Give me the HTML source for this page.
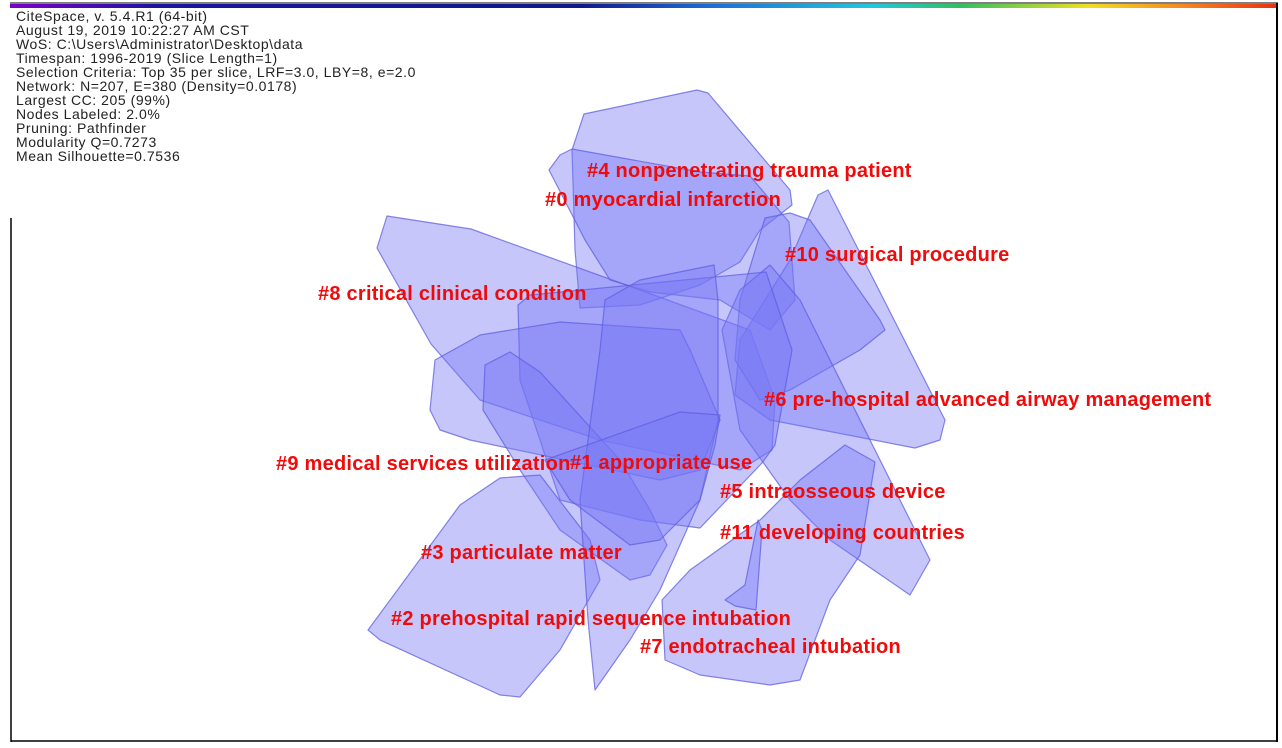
<!DOCTYPE html>
<html><head><meta charset="utf-8"><style>
html,body{margin:0;padding:0;background:#fff;}
svg{display:block;}
.h{font-family:"Liberation Sans",sans-serif;font-size:14px;fill:#222;letter-spacing:0.55px;}
.l{font-family:"Liberation Sans",sans-serif;font-size:20px;font-weight:bold;fill:#f00a0a;letter-spacing:0.25px;}
.p{fill:rgba(120,120,245,0.42);stroke:rgba(95,95,225,0.75);stroke-width:1.2;stroke-linejoin:round;}
</style></head><body>
<svg width="1282" height="748" viewBox="0 0 1282 748" xmlns="http://www.w3.org/2000/svg">
<defs>
<linearGradient id="g" x1="0" x2="1" y1="0" y2="0">
<stop offset="0" stop-color="#7a00c8"/>
<stop offset="0.12" stop-color="#1a14a0"/>
<stop offset="0.45" stop-color="#10188a"/>
<stop offset="0.55" stop-color="#1c6ad8"/>
<stop offset="0.68" stop-color="#20c8e0"/>
<stop offset="0.75" stop-color="#30c060"/>
<stop offset="0.85" stop-color="#f0e020"/>
<stop offset="0.93" stop-color="#f88020"/>
<stop offset="1" stop-color="#e83010"/>
</linearGradient>
</defs>
<rect x="0" y="0" width="1282" height="748" fill="#fff"/>
<line x1="10" y1="3" x2="1278" y2="3" stroke="#000" stroke-width="1"/>
<rect x="10" y="4" width="1268" height="4" fill="url(#g)"/>
<line x1="1277" y1="3" x2="1277" y2="742" stroke="#000" stroke-width="2"/>
<line x1="11" y1="218" x2="11" y2="742" stroke="#000" stroke-width="1.5"/>
<line x1="11" y1="741" x2="1278" y2="741" stroke="#000" stroke-width="1.5"/>

<g>
<text class="h" x="16" y="21">CiteSpace, v. 5.4.R1 (64-bit)</text>
<text class="h" x="16" y="35">August 19, 2019 10:22:27 AM CST</text>
<text class="h" x="16" y="49">WoS: C:\Users\Administrator\Desktop\data</text>
<text class="h" x="16" y="63">Timespan: 1996-2019 (Slice Length=1)</text>
<text class="h" x="16" y="77">Selection Criteria: Top 35 per slice, LRF=3.0, LBY=8, e=2.0</text>
<text class="h" x="16" y="91">Network: N=207, E=380 (Density=0.0178)</text>
<text class="h" x="16" y="105">Largest CC: 205 (99%)</text>
<text class="h" x="16" y="119">Nodes Labeled: 2.0%</text>
<text class="h" x="16" y="133">Pruning: Pathfinder</text>
<text class="h" x="16" y="147">Modularity Q=0.7273</text>
<text class="h" x="16" y="161">Mean Silhouette=0.7536</text>
</g>

<g>
<polygon class="p" points="584,114 697,90 708,93 790,190 792,205 760,230 740,262 700,285 640,305 580,308 575,250 572,150"/>
<polygon class="p" points="549,170 560,155 572,149 700,172 750,176 789,222 795,300 770,330 720,300 650,292 610,280 585,240"/>
<polygon class="p" points="387,216 471,229 640,290 750,330 775,400 772,450 740,470 600,440 480,400 431,344 377,248"/>
<polygon class="p" points="818,195 828,190 945,420 940,440 915,448 770,420 735,395 740,340 790,260"/>
<polygon class="p" points="765,218 790,213 810,220 880,320 885,330 860,350 790,390 760,400 735,360 740,300"/>
<polygon class="p" points="770,265 800,300 930,560 910,595 830,540 790,500 740,430 722,330 740,290"/>
<polygon class="p" points="845,445 875,462 860,555 830,600 800,680 770,685 700,675 665,660 662,600 690,570 760,520 800,480"/>
<polygon class="p" points="725,600 745,585 758,520 762,530 756,610 735,606"/>
<polygon class="p" points="530,295 766,272 792,350 775,445 762,463 700,528 640,520 560,500 520,380 518,305"/>
<polygon class="p" points="435,360 480,335 560,322 680,330 690,350 720,420 700,470 660,480 470,440 440,430 430,410"/>
<polygon class="p" points="485,365 510,352 540,372 620,460 650,510 667,545 650,575 630,580 560,530 520,470 483,410"/>
<polygon class="p" points="368,630 460,505 500,478 540,475 590,540 600,580 560,650 520,697 500,695 380,640"/>
<polygon class="p" points="605,300 640,280 714,265 718,300 718,420 700,500 660,590 630,640 595,690 588,620 580,500 600,350"/>
<polygon class="p" points="545,460 680,412 720,415 715,445 700,500 660,540 630,545 570,500"/>
</g>

<g>
<text class="l" x="587" y="177">#4 nonpenetrating trauma patient</text>
<text class="l" x="545" y="206">#0 myocardial infarction</text>
<text class="l" x="785" y="261">#10 surgical procedure</text>
<text class="l" x="318" y="300">#8 critical clinical condition</text>
<text class="l" x="764" y="406">#6 pre-hospital advanced airway management</text>
<text class="l" x="276" y="470">#9 medical services utilization</text>
<text class="l" x="570" y="469">#1 appropriate use</text>
<text class="l" x="720" y="498">#5 intraosseous device</text>
<text class="l" x="720" y="539">#11 developing countries</text>
<text class="l" x="421" y="559">#3 particulate matter</text>
<text class="l" x="391" y="625">#2 prehospital rapid sequence intubation</text>
<text class="l" x="640" y="653">#7 endotracheal intubation</text>
</g>
</svg>
</body></html>
